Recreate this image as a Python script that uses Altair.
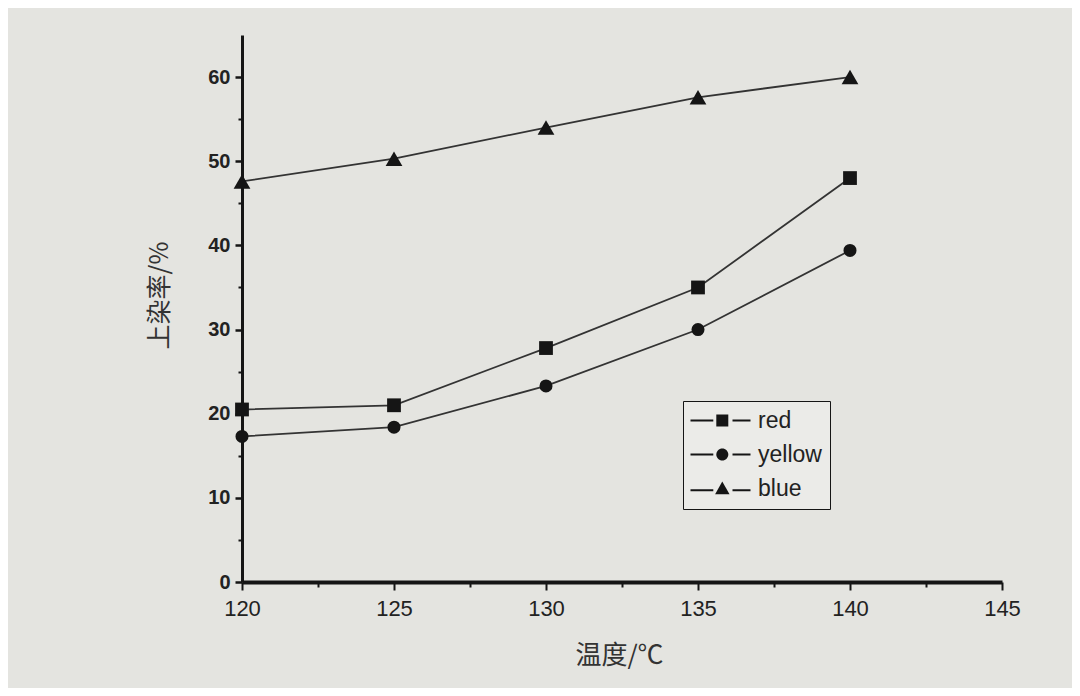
import altair as alt
import pandas as pd

temps = [120, 125, 130, 135, 140]
red = [20.5, 21.0, 27.8, 35.0, 48.0]
yellow = [17.3, 18.4, 23.3, 30.0, 39.4]
blue = [47.6, 50.3, 54.0, 57.6, 60.0]
series = ["red", "yellow", "blue"]
shapes = ["square", "circle", "triangle-up"]
marker_sizes = [190, 170, 280]

x_major = [120, 125, 130, 135, 140, 145]
x_minor = [122.5, 127.5, 132.5, 137.5, 142.5]
y_major = [0, 10, 20, 30, 40, 50, 60]
y_minor = [5, 15, 25, 35, 45, 55]

rows = []
for name, vals in zip(series, [red, yellow, blue]):
    for t, v in zip(temps, vals):
        rows.append({"temp": t, "rate": v, "series": name, "legend": name, "legend2": name})
df = pd.DataFrame(rows)

xs = alt.Scale(domain=[120, 145], nice=False, zero=False)
ys = alt.Scale(domain=[0, 65], nice=False)

INK = "#151515"

# legend glyphs: markers, and the short lines on either side
mk_sq = "M2.3,-1H4.3V1H2.3Z"
mk_ci = "M2.3,0A1,1 0 1,1 4.3,0A1,1 0 1,1 2.3,0Z"
mk_tr = "M3.3,-1.15L4.5,0.95L2.1,0.95Z"
ln_all = "M-2,0H1.8M5,0H8"
ln_tr = "M-2,0.3H1.8M5,0.3H8"

LX, LY = 441, 366

line = alt.Chart(df).mark_line(color="#333333", strokeWidth=1.8).encode(
    x=alt.X("temp:Q", scale=xs, axis=alt.Axis(
        values=x_major, title="温度/℃", orient="bottom", labelFlush=False,
        labelFontSize=22, labelFont="Liberation Sans", labelColor="#222",
        labelPadding=8, tickSize=8, tickWidth=2, tickColor=INK,
        domainColor=INK, domainWidth=4, grid=False,
        titleFont="Noto Sans CJK SC", titleFontSize=26, titleFontWeight="normal",
        titleColor="#333", titleX=377, titleY=73, titleBaseline="middle",
        titleAlign="center")),
    y=alt.Y("rate:Q", scale=ys, axis=alt.Axis(
        values=y_major, title="上染率/%", orient="left", labelFlush=False,
        labelFontSize=20, labelFontWeight="bold", labelFont="Liberation Sans",
        labelColor="#222", labelPadding=5, tickSize=7, tickWidth=2.5, tickColor=INK,
        domainColor=INK, domainWidth=3, grid=False,
        titleFont="Noto Sans CJK SC", titleFontSize=25, titleFontWeight="normal",
        titleColor="#333", titleX=-83, titleY=260, titleAngle=-90,
        titleBaseline="middle", titleAlign="center")),
    detail="series:N",
)

point_layers = []
for name, shp, sz in zip(series, shapes, marker_sizes):
    point_layers.append(
        alt.Chart(df).transform_filter(alt.datum.series == name).mark_point(
            filled=True, opacity=1, color=INK, shape=shp, size=sz
        ).encode(
            x=alt.X("temp:Q", scale=xs, axis=None),
            y=alt.Y("rate:Q", scale=ys, axis=None),
        )
    )

legend_common = dict(
    title=None, orient="none", legendX=LX, legendY=LY,
    symbolSize=144, symbolOpacity=1,
    labelFontSize=23, labelFont="Liberation Sans",
    labelOffset=44, rowPadding=10, padding=8,
)

# legend: line segments (unfilled glyphs), carries the minor ticks too
legend_lines = alt.Chart(df).mark_point(
    filled=False, stroke=INK, strokeWidth=2, opacity=0, size=144
).encode(
    x=alt.X("temp:Q", scale=xs, axis=alt.Axis(
        values=x_minor, labels=False, title=None, orient="bottom", domain=False,
        tickSize=5, tickWidth=2, tickColor=INK, grid=False)),
    y=alt.Y("rate:Q", scale=ys, axis=alt.Axis(
        values=y_minor, labels=False, title=None, orient="left", domain=False,
        tickSize=4, tickWidth=2, tickColor=INK, grid=False)),
    shape=alt.Shape("legend:N", scale=alt.Scale(domain=series, range=[ln_all, ln_all, ln_tr]),
                    legend=alt.Legend(
                        symbolStrokeColor=INK, symbolStrokeWidth=2,
                        symbolFillColor="transparent",
                        labelColor="#222",
                        strokeColor=INK, fillColor="#ebebe8", **legend_common)),
)

# legend: markers (filled glyphs), drawn over the first legend
legend_marks = alt.Chart(df).mark_point(
    filled=True, fill=INK, opacity=0, size=144
).encode(
    x=alt.X("temp:Q", scale=xs, axis=None),
    y=alt.Y("rate:Q", scale=ys, axis=None),
    shape=alt.Shape("legend2:N", scale=alt.Scale(domain=series, range=[mk_sq, mk_ci, mk_tr]),
                    legend=alt.Legend(
                        symbolFillColor=INK, labelColor="#222", labelOpacity=0,
                        **legend_common)),
)

chart = alt.layer(line, *point_layers, legend_lines, legend_marks).resolve_scale(
    shape="independent"
).resolve_axis(x="independent", y="independent").properties(
    width=760, height=547,
    autosize=alt.AutoSizeParams(type="none"),
    padding={"left": 234, "top": 27, "right": 70, "bottom": 106},
    background="#e4e4e0",
).configure_view(stroke=None)

chart.save("out.html", embed_options={"renderer": "svg", "actions": False})
